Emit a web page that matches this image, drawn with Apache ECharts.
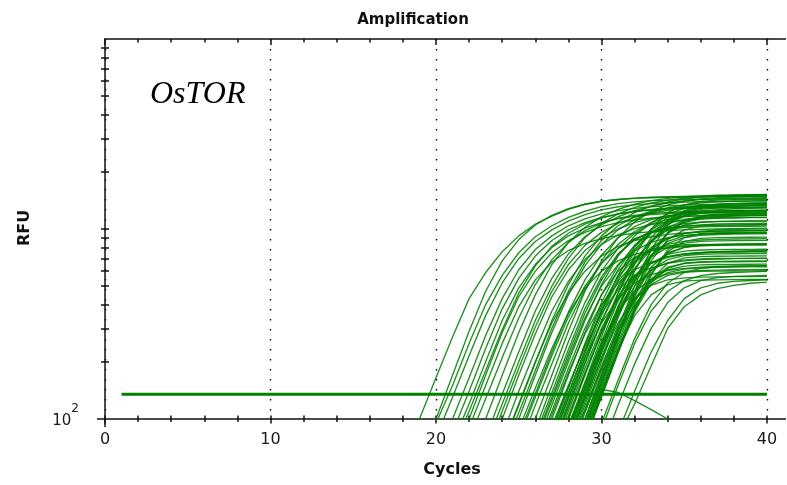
<!DOCTYPE html>
<html>
<head>
<meta charset="utf-8">
<title>Amplification</title>
<script src="https://cdn.jsdelivr.net/npm/echarts@6/dist/echarts.min.js"></script>
<style>
  html, body { margin: 0; padding: 0; background: #fff; }
  #chart { width: 787px; height: 485px; }
</style>
</head>
<body>
<div id="chart"></div>
<script>
// Axis ranges and tick values
const CYCLE_MIN = 0;
const CYCLE_MAX = 40;
const CYCLE_STEP = 10;
const RFU_MIN = 100;
const RFU_MAX = 10000;
const RFU_TICKS = [200, 300, 400, 500, 600, 700, 800, 900, 1000,
                   2000, 3000, 4000, 5000, 6000, 7000, 8000, 9000];

// Threshold line (RFU) drawn across the run
const THRESHOLD_CYCLES = [1, 40];
const THRESHOLD_RFU = 135;

// First cycle of each well's trace; values continue one per cycle up to 40
const CURVE_START = [
  18, 19, 20, 20, 20, 21, 21, 21, 22, 22, 22,
  23, 23, 23, 24, 24, 24, 24, 25, 25, 25, 25,
  26, 26, 26, 26, 26, 26,
  27, 27, 27, 27, 27, 27, 27, 27, 27, 27, 27,
  28, 28, 28, 28, 28, 28, 28, 28, 28, 28, 28, 28, 28, 28,
  29, 29, 29, 29, 29, 29, 29, 29,
  30, 30, 31, 31, 29,
  24, 25, 26, 26, 27, 27, 27, 28, 28, 28, 29, 29, 29, 30, 23, 21
];

// Fluorescence (RFU) per cycle for each well
const CURVE_RFU = [
  [62,100,165,270,430,590,760,920,1060,1170,1270,1350,1400,1430,1450,1460,1468,1474,1478,1482,1485,1488,1490],
  [60,100,170,290,470,680,880,1050,1180,1280,1350,1400,1430,1455,1470,1480,1486,1490,1494,1497,1500,1502],
  [95,150,250,400,570,750,910,1040,1150,1240,1310,1360,1390,1410,1420,1428,1433,1437,1440,1442,1444],
  [80,130,215,350,520,700,860,990,1100,1190,1260,1310,1340,1360,1375,1385,1392,1396,1400,1402,1404],
  [60,100,165,275,430,610,780,920,1040,1130,1200,1250,1285,1310,1325,1335,1342,1348,1352,1356,1360],
  [85,140,235,380,550,720,870,990,1080,1150,1200,1235,1258,1272,1282,1288,1293,1296,1298,1300],
  [75,120,200,330,490,650,800,920,1010,1080,1130,1165,1190,1205,1215,1222,1228,1232,1236,1240],
  [60,100,170,285,440,600,750,870,960,1030,1080,1115,1140,1155,1165,1172,1176,1178,1180,1181],
  [90,150,250,390,540,670,770,840,890,925,950,968,980,990,996,1000,1004,1007,1010],
  [78,128,210,340,510,690,850,980,1075,1140,1180,1205,1222,1233,1240,1244,1247,1249,1250],
  [60,100,170,285,450,650,850,1020,1160,1270,1350,1410,1450,1478,1495,1505,1512,1516,1520],
  [80,135,225,370,550,740,910,1050,1160,1250,1320,1370,1405,1428,1442,1452,1458,1462],
  [65,110,185,305,470,650,820,960,1070,1150,1210,1255,1285,1305,1318,1328,1334,1340],
  [60,100,170,280,440,610,770,900,1000,1080,1135,1175,1200,1218,1230,1238,1245,1250],
  [82,140,230,370,530,690,830,930,1005,1055,1090,1112,1127,1137,1143,1148,1150],
  [72,120,200,320,460,600,720,810,870,910,937,953,964,971,976,979,981],
  [60,100,170,285,450,640,830,990,1120,1220,1290,1340,1370,1390,1400,1406,1410],
  [65,108,180,300,470,670,870,1040,1160,1240,1285,1310,1325,1332,1336,1338,1340],
  [88,145,235,360,490,600,680,735,770,793,808,818,824,828,830,831],
  [78,130,215,345,500,660,790,890,960,1005,1035,1052,1062,1067,1070,1072],
  [70,118,195,320,480,660,830,970,1080,1160,1210,1245,1265,1278,1285,1290],
  [60,100,170,290,470,680,900,1090,1240,1340,1400,1440,1462,1474,1480,1484],
  [88,150,255,410,600,790,950,1060,1125,1160,1180,1192,1198,1201,1203],
  [78,130,220,360,540,730,880,970,1015,1035,1043,1047,1049,1050,1051],
  [75,125,210,340,500,650,770,850,900,925,938,945,949,952,954],
  [70,118,200,330,510,720,920,1080,1200,1280,1325,1348,1360,1366,1370],
  [64,105,175,280,400,520,610,670,710,735,750,760,765,768,770],
  [60,100,170,285,450,640,820,950,1030,1068,1085,1093,1097,1100,1101],
  [92,150,240,360,480,570,625,660,680,690,695,698,700,701],
  [88,148,245,390,560,700,780,815,826,829,830,831,832,833],
  [85,145,250,410,610,820,990,1110,1180,1218,1235,1244,1248,1250],
  [82,138,230,370,530,670,770,830,860,875,882,886,888,890],
  [78,130,210,320,430,520,575,605,620,630,635,638,640,641],
  [75,128,220,370,570,800,1000,1150,1240,1288,1310,1320,1326,1330],
  [72,122,210,350,540,760,950,1070,1125,1143,1148,1150,1151,1152],
  [68,115,195,325,490,660,800,895,948,975,988,994,998,1000],
  [65,110,185,300,440,570,660,715,740,752,757,759,760,761],
  [60,100,172,290,460,670,870,1020,1110,1150,1167,1174,1178,1180],
  [60,100,170,285,440,620,780,890,945,966,974,978,980,981],
  [93,155,250,370,470,540,580,598,605,608,610,611,612],
  [90,155,270,460,720,1000,1220,1340,1395,1418,1427,1431,1433],
  [86,145,245,390,560,710,800,843,860,866,869,870,871],
  [86,145,240,375,530,660,735,765,775,779,780,781,782],
  [83,140,232,360,500,610,665,688,696,699,700,701,702],
  [80,136,232,390,610,850,1050,1170,1225,1246,1254,1258,1260],
  [76,128,210,320,430,505,540,553,558,560,561,562,563],
  [76,130,225,380,600,860,1080,1210,1268,1290,1297,1300,1301],
  [73,123,210,350,540,730,860,920,940,947,950,951,952],
  [70,118,200,340,540,770,950,1050,1085,1096,1100,1102,1103],
  [67,112,190,310,470,610,690,725,736,740,741,742,743],
  [67,112,185,295,430,545,610,638,647,650,651,652,653],
  [62,100,170,275,400,510,570,592,598,600,601,602,603],
  [62,100,172,300,500,780,1050,1220,1295,1320,1328,1332,1334],
  [93,160,270,440,630,750,800,815,820,822,823,824],
  [90,155,265,445,680,880,990,1035,1048,1052,1054,1055],
  [90,155,270,460,720,960,1110,1170,1190,1197,1200,1201],
  [86,145,245,390,540,630,660,668,671,672,673,674],
  [83,140,230,350,450,510,532,538,540,541,542,543],
  [83,140,235,375,540,660,705,716,719,720,721,722],
  [80,135,230,380,580,760,860,892,900,903,905,906],
  [77,130,222,370,570,780,900,945,956,959,960,961],
  [88,150,250,370,470,535,568,583,590,595,598],
  [70,118,195,300,410,490,535,555,563,567,570],
  [85,140,225,330,430,490,518,530,536,540],
  [80,120,190,300,390,450,485,505,518,525],
  [70,143,138,125,112,100,92,90,90,90,90,90],
  [70,118,198,330,510,720,920,1090,1220,1320,1390,1440,1470,1490,1500,1506,1510],
  [82,136,225,365,540,730,900,1030,1120,1170,1195,1208,1214,1218,1220,1222],
  [82,138,232,380,560,740,880,960,1000,1018,1026,1030,1032,1034,1035],
  [66,110,185,300,450,600,710,770,800,815,822,826,828,830,831],
  [80,135,228,375,570,780,960,1090,1170,1210,1230,1240,1244,1246],
  [70,118,200,330,500,690,860,990,1080,1130,1158,1172,1178,1181],
  [62,104,175,285,420,560,660,715,740,750,755,757,758,759],
  [88,150,255,420,650,900,1110,1250,1320,1350,1362,1367,1370],
  [78,132,222,360,540,720,840,900,925,935,940,942,943],
  [64,108,180,290,420,530,590,615,625,629,631,632,633],
  [95,165,285,470,720,950,1090,1160,1190,1202,1206,1208],
  [88,150,255,410,600,740,800,822,830,833,834,835],
  [78,132,225,365,520,620,660,672,676,678,679,680],
  [95,160,265,400,520,590,620,632,637,640,641],
  [72,120,200,330,500,700,900,1070,1200,1300,1370,1420,1455,1478,1492,1500,1505,1508],
  [68,110,180,295,460,640,810,950,1060,1140,1200,1240,1268,1287,1300,1310,1316,1320,1323,1325]
];

const TRACE_GREEN = 'rgba(0, 128, 0, 0.88)';
const THRESHOLD_GREEN = '#008000';
const AXIS_COLOR = '#111';
const SANS = '"DejaVu Sans", sans-serif';

const chart = echarts.init(document.getElementById('chart'), null, { renderer: 'canvas' });

const traceSeries = CURVE_RFU.map((values, i) => ({
  type: 'line',
  xAxisIndex: 0,
  yAxisIndex: 0,
  symbol: 'none',
  silent: true,
  clip: true,
  lineStyle: { color: TRACE_GREEN, width: 1.35 },
  data: values.map((v, k) => [CURVE_START[i] + k, v])
}));

const thresholdSeries = {
  type: 'line',
  xAxisIndex: 0,
  yAxisIndex: 0,
  symbol: 'none',
  silent: true,
  z: 3,
  lineStyle: { color: THRESHOLD_GREEN, width: 3 },
  data: THRESHOLD_CYCLES.map(c => [c, THRESHOLD_RFU])
};

const axisLineStyle = { color: AXIS_COLOR, width: 1.5 };

chart.setOption({
  animation: false,
  backgroundColor: '#fff',
  grid: { left: 105, right: 20, top: 39, bottom: 66 },
  xAxis: [
    {
      // cycle scale used by the traces: line, labels, dotted grid
      type: 'value', position: 'bottom',
      min: CYCLE_MIN, max: CYCLE_MAX, interval: CYCLE_STEP,
      axisLine: { show: true, onZero: false, lineStyle: axisLineStyle },
      axisTick: { show: false },
      axisLabel: { show: true, margin: 13, fontSize: 16, fontFamily: SANS, color: '#1a1a1a' },
      splitLine: { show: true, lineStyle: { color: '#000', width: 1.4, type: [1.4, 8.6] } }
    },
    {
      // tick marks crossing the bottom axis line
      type: 'value', position: 'bottom', offset: -3.5,
      min: CYCLE_MIN, max: CYCLE_MAX, interval: CYCLE_STEP,
      axisLine: { show: false, onZero: false },
      axisTick: { show: true, length: 8, lineStyle: axisLineStyle },
      minorTick: { show: true, splitNumber: 5, length: 6.5, lineStyle: axisLineStyle },
      axisLabel: { show: false },
      splitLine: { show: false }
    },
    {
      // top frame with inward ticks
      type: 'value', position: 'top',
      min: CYCLE_MIN, max: CYCLE_MAX, interval: CYCLE_STEP,
      axisLine: { show: true, onZero: false, lineStyle: axisLineStyle },
      axisTick: { show: true, inside: true, length: 6, lineStyle: axisLineStyle },
      minorTick: { show: true, splitNumber: 5, length: 3.5, lineStyle: axisLineStyle },
      axisLabel: { show: false },
      splitLine: { show: false }
    }
  ],
  yAxis: [
    {
      // RFU log scale used by the traces
      type: 'log', logBase: 10, position: 'left',
      min: RFU_MIN, max: RFU_MAX,
      axisLine: { show: true, onZero: false, lineStyle: axisLineStyle },
      axisTick: { show: false },
      splitLine: { show: false },
      axisLabel: {
        show: true,
        margin: 26,
        padding: [0, 0, 7, 0],
        formatter: v => (Math.round(v) === RFU_MIN ? '{h| }{b|10}{e|2}' : ''),
        rich: {
          b: { fontSize: 15, fontFamily: SANS, color: '#1a1a1a', lineHeight: 16, verticalAlign: 'bottom' },
          e: { fontSize: 12, fontFamily: SANS, color: '#1a1a1a', lineHeight: 16, verticalAlign: 'top' },
          h: { fontSize: 1, lineHeight: 26 }
        }
      }
    },
    {
      // decade subdivisions of the log scale, crossing the axis line
      type: 'value', position: 'left', offset: -4,
      min: Math.log10(RFU_MIN), max: Math.log10(RFU_MAX),
      axisLine: { show: false, onZero: false },
      axisTick: { show: true, length: 8, lineStyle: axisLineStyle, customValues: RFU_TICKS.map(v => Math.log10(v)) },
      axisLabel: { show: false },
      splitLine: { show: false }
    }
  ],
  series: traceSeries.concat([thresholdSeries])
});

// Frame extensions past the plot corners, and the chart's text
const x0 = chart.convertToPixel({ xAxisIndex: 0 }, CYCLE_MIN);
const x40 = chart.convertToPixel({ xAxisIndex: 0 }, CYCLE_MAX);
const yBottom = chart.convertToPixel({ yAxisIndex: 0 }, RFU_MIN);
const yTop = chart.convertToPixel({ yAxisIndex: 0 }, RFU_MAX);
const frameStyle = { stroke: AXIS_COLOR, lineWidth: 1.5 };

chart.setOption({
  graphic: [
    { type: 'line', silent: true, shape: { x1: x0 - 8, y1: yBottom, x2: x0, y2: yBottom }, style: frameStyle },
    { type: 'line', silent: true, shape: { x1: x40, y1: yBottom, x2: 786, y2: yBottom }, style: frameStyle },
    { type: 'line', silent: true, shape: { x1: x40, y1: yTop, x2: 786, y2: yTop }, style: frameStyle },
    { type: 'line', silent: true, shape: { x1: x0, y1: yBottom, x2: x0, y2: yBottom + 8 }, style: frameStyle },
    {
      type: 'text', silent: true, x: 413, y: 20,
      style: { text: 'Amplification', font: 'bold 15px ' + SANS, fill: '#111',
               align: 'center', verticalAlign: 'middle', textAlign: 'center', textVerticalAlign: 'middle' }
    },
    {
      type: 'text', silent: true, x: 452, y: 470,
      style: { text: 'Cycles', font: 'bold 16px ' + SANS, fill: '#111',
               align: 'center', verticalAlign: 'middle', textAlign: 'center', textVerticalAlign: 'middle' }
    },
    {
      type: 'text', silent: true, x: 25, y: 228, rotation: Math.PI / 2,
      style: { text: 'RFU', font: 'bold 16px ' + SANS, fill: '#111',
               align: 'center', verticalAlign: 'middle', textAlign: 'center', textVerticalAlign: 'middle' }
    },
    {
      type: 'text', silent: true, x: 150, y: 95,
      style: { text: 'OsTOR', font: 'italic 32px "Liberation Serif", serif', fill: '#000',
               align: 'left', verticalAlign: 'middle', textAlign: 'left', textVerticalAlign: 'middle' }
    }
  ]
});
</script>
</body>
</html>
